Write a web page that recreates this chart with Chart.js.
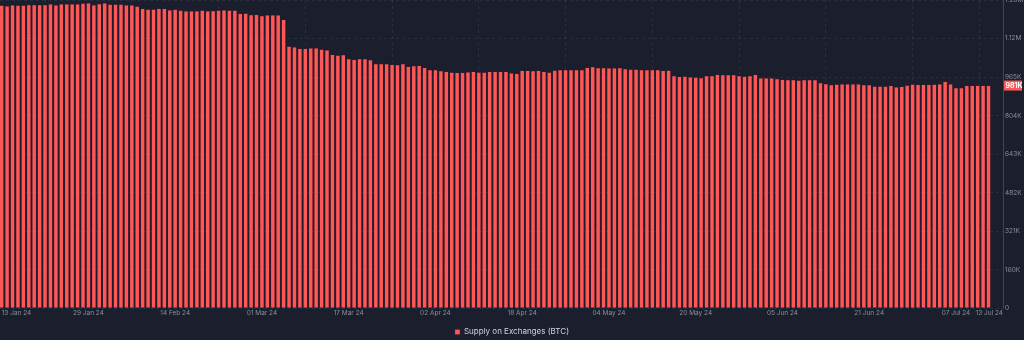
<!DOCTYPE html>
<html>
<head>
<meta charset="utf-8">
<script src="https://cdn.jsdelivr.net/npm/chart.js@4.4.1/dist/chart.umd.min.js"></script>
<style>
    html, body { margin: 0; padding: 0; background: #1a1e2d; }
    #wrap { width: 1024px; height: 340px; }
</style>
</head>
<body>
<div id="wrap"><canvas id="supplyChart" width="1024" height="340"></canvas></div>
<script>
// Supply on Exchanges (BTC), one bar per day from 13 Jan 24, in thousands
const supplyK = [
    1264, 1261, 1265, 1264, 1264, 1266, 1266, 1266, 1266, 1269, 1265, 1269, 1269, 1269, 1269, 1272, 1273, 1265, 1270, 1273,
    1268, 1268, 1268, 1265, 1265, 1260, 1251, 1247, 1247, 1251, 1251, 1244, 1247, 1243, 1240, 1240, 1240,
    1243, 1240, 1241, 1243, 1244, 1243, 1243, 1230, 1231, 1224, 1226, 1220, 1223, 1223, 1223, 1205, 1093, 1090, 1084, 1084,
    1086, 1086, 1081, 1077, 1059, 1055, 1058, 1041, 1038, 1041, 1041, 1037, 1020, 1020, 1020, 1017, 1016,
    1020, 1009, 1012, 1013, 1004, 995, 995, 991, 988, 985, 983, 983, 986, 988, 985, 985, 988, 988, 988, 988,
    981, 979, 992, 992, 991, 992, 988, 985, 993, 995, 995, 995, 995, 995, 1004, 1007, 1003,
    1003, 1002, 1002, 1003, 999, 997, 997, 995, 995, 995, 995, 992, 993, 970, 967, 968, 965, 964, 962, 970,
    970, 975, 974, 974, 974, 970, 968, 970, 975, 961, 961, 961, 957, 954, 953, 953, 951,
    953, 953, 953, 941, 937, 932, 934, 936, 936, 936, 936, 932, 932, 926, 926, 926, 929, 923, 925, 930,
    934, 933, 933, 933, 934, 936, 946, 936, 920, 920, 929, 929, 929, 929, 929
];

// x tick positions are day numbers counted from 13 Jan 24
const xTickDays = [0, 16, 32, 48, 64, 80, 96, 112, 128, 144, 160, 176, 184.67];
const xTickLabels = ['13 Jan 24', '29 Jan 24', '14 Feb 24', '01 Mar 24', '17 Mar 24', '02 Apr 24', '18 Apr 24',
    '04 May 24', '20 May 24', '05 Jun 24', '21 Jun 24', '07 Jul 24', '13 Jul 24'];

const yStep = 160750;
const yTickLabels = ['0', '160K', '321K', '482K', '643K', '804K', '965K', '1.12M', '1.28M'];
const lastLabel = '981K';

const barRed = '#ff5656';
const gridColor = 'rgba(255, 255, 255, 0.07)';
const tickColor = '#8b909c';

// Red badge with the latest value, sitting on the right axis
const lastValueBadge = {
    id: 'lastValueBadge',
    afterDraw(chart) {
        const yScale = chart.scales.y;
        const meta = chart.getDatasetMeta(0);
        const bar = meta.data[meta.data.length - 1];
        const ctx = chart.ctx;
        ctx.save();
        ctx.fillStyle = barRed;
        ctx.fillRect(yScale.left + 1, bar.y - 5, 18, 10);
        ctx.fillStyle = '#ffffff';
        ctx.font = 'bold 7px Inter';
        ctx.textBaseline = 'middle';
        ctx.fillText(lastLabel, yScale.left + 2.5, bar.y + 0.5);
        ctx.restore();
    }
};

const ctx = document.getElementById('supplyChart').getContext('2d');
new Chart(ctx, {
    type: 'bar',
    data: {
        datasets: [{
            label: 'Supply on Exchanges (BTC)',
            data: supplyK.map((v, i) => ({ x: i, y: v * 1000 })),
            backgroundColor: barRed,
            borderColor: 'rgba(110, 30, 40, 0.7)',
            borderWidth: 0.5,
            barPercentage: 0.82,
            categoryPercentage: 1.0
        }]
    },
    options: {
        responsive: false,
        animation: false,
        layout: { padding: { top: 0, left: 0, right: 0, bottom: -6 } },
        plugins: {
            legend: {
                position: 'bottom',
                labels: {
                    boxWidth: 5,
                    boxHeight: 5,
                    padding: 5,
                    color: '#d3d6dd',
                    font: { family: 'Inter', size: 8 }
                }
            },
            tooltip: { enabled: false }
        },
        scales: {
            x: {
                type: 'linear',
                min: -0.31,
                max: 184.67,
                offset: false,
                afterBuildTicks: scale => {
                    scale.ticks = xTickDays.map(d => ({ value: d }));
                },
                afterFit: scale => {
                    scale.height = scale.height + 5;
                },
                ticks: {
                    autoSkip: false,
                    maxRotation: 0,
                    align: 'inner',
                    padding: 1,
                    color: tickColor,
                    font: { family: 'Inter', size: 6.5 },
                    callback: (val, i) => xTickLabels[i]
                },
                grid: { color: gridColor, drawTicks: false },
                border: { display: false, dash: [3, 3] }
            },
            y: {
                position: 'right',
                min: 0,
                max: yStep * 8,
                afterBuildTicks: scale => {
                    scale.ticks = yTickLabels.map((t, i) => ({ value: i * yStep }));
                },
                afterFit: scale => {
                    scale.width = 21;
                    scale.paddingTop = 0;
                },
                ticks: {
                    padding: 2,
                    color: tickColor,
                    font: { family: 'Inter', size: 6.5 },
                    callback: (val, i) => yTickLabels[i]
                },
                grid: { color: gridColor, drawTicks: false },
                border: { display: true, color: '#7d2b33', width: 1, dash: [3, 3] }
            }
        }
    },
    plugins: [lastValueBadge]
});
</script>
</body>
</html>
